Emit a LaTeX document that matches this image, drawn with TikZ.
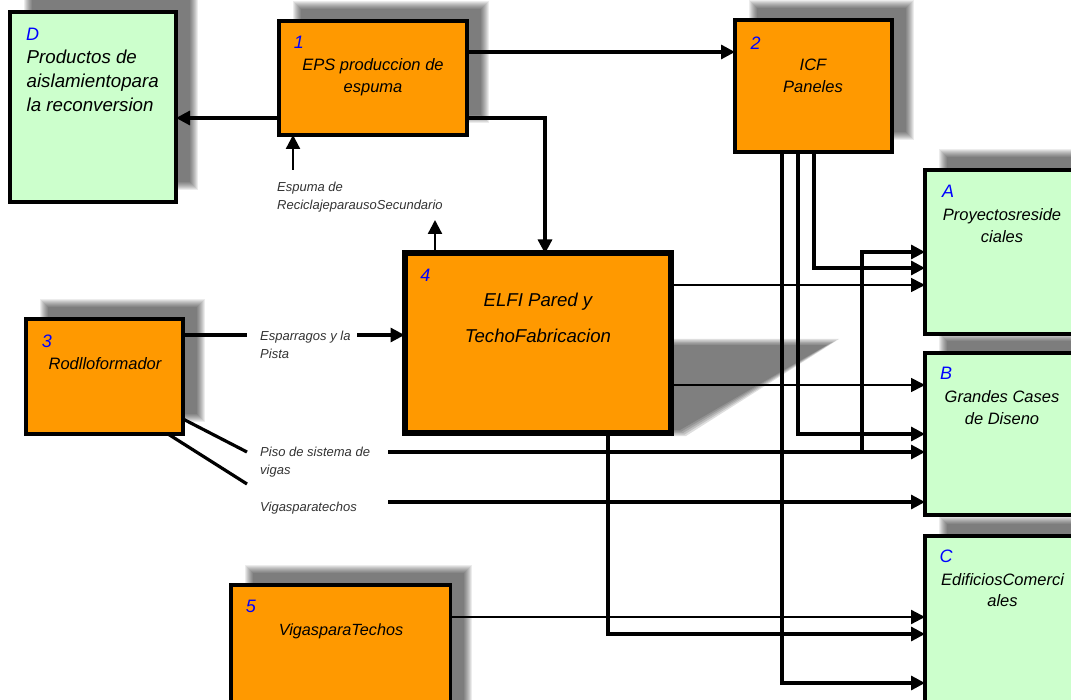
\documentclass[tikz,border=0pt]{standalone}
\usepackage{fontspec}
\setmainfont{Liberation Sans}
\usetikzlibrary{arrows.meta,calc}
\definecolor{orng}{HTML}{FF9900}
\definecolor{lgreen}{HTML}{CCFFCC}
\definecolor{numblue}{HTML}{0000FF}
\tikzset{
  box/.style={draw=black, line width=3.5pt, anchor=north west, inner sep=0pt, outer sep=0pt},
  procbox/.style={box, fill=orng},
  outbox/.style={box, fill=lgreen},
  thk/.style={line width=3.2pt},
  med/.style={line width=2.3pt},
  thn/.style={line width=1.6pt},
  arr/.style={-{Triangle[length=14pt,width=14pt]}},
  num/.style={text=numblue, font=\fontsize{18}{20}\selectfont\itshape, inner sep=0pt},
  boxtext/.style={font=\fontsize{16.5}{21.5}\selectfont\itshape, align=center, inner sep=0pt},
  lbl/.style={font=\fontsize{13}{17.5}\selectfont\itshape, text=black!80, align=left, anchor=west, inner sep=0pt},
}
\newcommand\blurshadow[4]{%
  \foreach \k in {-4,-3,...,4}{\fill[black, opacity=0.074] (#1+\k,#2+\k) rectangle (#3-\k,#4-\k);}}
\begin{document}
\begin{tikzpicture}[x=1pt,y=-1pt]
\clip (0,0) rectangle (1071,700);
\fill[white] (0,0) rectangle (1071,700);
% shadows
\blurshadow{28}{-4}{194}{186}
\blurshadow{297}{5}{485}{119}
\blurshadow{753}{4}{910}{136}
\blurshadow{943}{153}{1100}{318}
\blurshadow{943}{337}{1100}{499}
\blurshadow{943}{520}{1100}{720}
\blurshadow{44}{303}{201}{418}
\blurshadow{249}{569}{468}{720}
\foreach \k in {-3,-1.5,0,1.5,3}{
  \fill[black, opacity=0.13] (671,342+\k) -- (833-2*\k,342+\k) -- (683-\k,433-\k) -- (671,433-\k) -- cycle;}
% boxes
\node[outbox, minimum width=166pt, minimum height=190pt] (D) at (10,12) {};
\node[procbox, minimum width=188pt, minimum height=114pt] (n1) at (279,21) {};
\node[procbox, minimum width=157pt, minimum height=132pt] (n2) at (735,20) {};
\node[outbox, minimum width=165pt, minimum height=164pt] (A) at (925,170) {};
\node[outbox, minimum width=165pt, minimum height=162pt] (B) at (925,353) {};
\node[outbox, minimum width=165pt, minimum height=184pt] (C) at (925,536) {};
\node[procbox, minimum width=157pt, minimum height=115pt] (n3) at (26,319) {};
\node[procbox, line width=6pt, minimum width=266.5pt, minimum height=179.5pt] (n4) at (404.5,253.5) {};
\node[procbox, minimum width=219.5pt, minimum height=135pt] (n5) at (231,585) {};
% free ends of connectors
\coordinate (espS) at (293,170);
\coordinate (up4) at (435,220);
\coordinate (espL) at (247,335);
\coordinate (espR) at (357,335);
\coordinate (pisoL) at (247,452);
\coordinate (vigL) at (247,484);
\coordinate (pisoR) at (388,452);
\coordinate (vigR) at (388,502);
\coordinate (jA) at (862,452);
% connectors
\draw[thk,arr] (n1.west |- 0,118) -- (D.east |- 0,118);
\draw[thk,arr] (n1.east |- 0,52) -- (n2.west |- 0,52);
\draw[thk,arr] (n1.east |- 0,118) -| (n4.north -| 545,0);
\draw[med,arr] (espS) -- (n1.south -| espS);
\draw[med,arr] (n4.north -| up4) -- (up4);
\draw[thk] (n3.east |- espL) -- (espL);
\draw[thk,arr] (espR) -- (n4.west |- espR);
\draw[thk] (n3.east |- 0,419) -- (pisoL);
\draw[thk] (n3.south -| 168,0) -- (vigL);
\draw[thk,arr] (pisoR) -- (B.west |- pisoR);
\draw[thk,arr] (jA) |- (A.west |- 0,252);
\draw[thk,arr] (vigR) -- (B.west |- vigR);
\draw[thn,arr] (n4.east |- 0,285) -- (A.west |- 0,285);
\draw[thn,arr] (n4.east |- 0,385) -- (B.west |- 0,385);
\draw[thk,arr] (n4.south -| 608,0) |- (C.west |- 0,634);
\draw[med,arr] (n5.east |- 0,617) -- (C.west |- 0,617);
\draw[thk,arr] (n2.south -| 814,0) |- (A.west |- 0,268);
\draw[thk,arr] (n2.south -| 798,0) |- (B.west |- 0,434);
\draw[thk,arr] (n2.south -| 782,0) |- (C.west |- 0,683);
% texts
\node[num] (Dn) at (32.5,34) {D};
\node[boxtext, align=left, anchor=west, font=\fontsize{18.7}{24}\selectfont\itshape] (Dt) at (26.5,81) {Productos de\\aislamientopara\\la reconversion};
\node[num] (n1n) at (299,42) {1};
\node[boxtext] (n1t) at (373,77) {EPS produccion de\\espuma};
\node[num] (n2n) at (755.5,43) {2};
\node[boxtext] (n2t) at (813,76) {ICF\\Paneles};
\node[num] (An) at (948,191) {A};
\node[boxtext] (At) at (1002,225.5) {Proyectosreside\\ciales};
\node[num] (Bn) at (946,373) {B};
\node[boxtext] (Bt) at (1002,407.5) {Grandes Cases\\de Diseno};
\node[num] (Cn) at (946,556) {C};
\node[boxtext] (Ct) at (1002.5,590) {EdificiosComerci\\ales};
\node[num] (n3n) at (47,341) {3};
\node[boxtext] (n3t) at (105,364) {Rodlloformador};
\node[num] (n4n) at (425.5,275) {4};
\node[boxtext, font=\fontsize{18.6}{36}\selectfont\itshape] (n4t) at (538,318) {ELFI Pared y\\TechoFabricacion};
\node[num] (n5n) at (251,606) {5};
\node[boxtext, font=\fontsize{16.2}{20}\selectfont\itshape] (n5t) at (341,631) {VigasparaTechos};
\node[lbl] (espuma) at (277,197) {Espuma de\\ReciclajeparausoSecundario};
\node[lbl] (esparr) at (260,345) {Esparragos y la\\Pista};
\node[lbl] (piso) at (260,462) {Piso de sistema de\\vigas};
\node[lbl] (vigas) at (260,508) {Vigasparatechos};
\end{tikzpicture}
\end{document}
